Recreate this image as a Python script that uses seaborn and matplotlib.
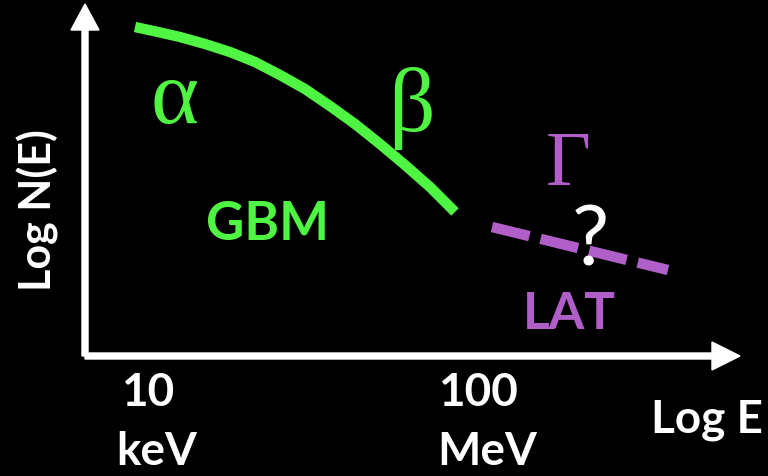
import numpy as np
import pandas as pd
import matplotlib
matplotlib.use("Agg")
import matplotlib.pyplot as plt
import seaborn as sns

# schematic spectrum (pixel-like units, y grows downward)
gbm_x = [135, 158, 180, 205, 230, 255, 280, 305, 330, 355, 380, 405, 430, 455]
gbm_y = [28, 33, 38, 45, 53, 63, 76, 90, 107, 125, 145, 166, 188, 213]
lat_x = [492, 668]
lat_y = [228, 271]

tick_pos = [148, 478]
tick_top = ["10", "100"]
tick_bot = ["keV", "MeV"]

green = "#4ff542"
purple = "#b05fc8"

sns.set_theme(style="dark", rc={"axes.facecolor": "black", "figure.facecolor": "black"})
plt.rcParams['font.family'] = ['Lato', 'DejaVu Sans']

fig = plt.figure(figsize=(7.68, 4.77), dpi=100)
ax = fig.add_axes([0, 0, 1, 1])
ax.set_xlim(0, 768)
ax.set_ylim(477, 0)
ax.axis("off")

gbm = pd.DataFrame({"x": gbm_x, "y": gbm_y})
lat = pd.DataFrame({"x": lat_x, "y": lat_y})
sns.lineplot(data=gbm, x="x", y="y", ax=ax, color=green, lw=7.5, sort=False,
             solid_capstyle="butt", solid_joinstyle="round")
sns.lineplot(data=lat, x="x", y="y", ax=ax, color=purple, lw=7.5,
             dashes=False, linestyle=(0, (3.7, 1.1)), dash_capstyle="butt")

# axes arrows
ax.arrow(85, 357, 0, -352, width=6, head_width=28, head_length=26,
         length_includes_head=True, color="white")
ax.arrow(85, 357, 655, 0, width=6, head_width=28, head_length=28,
         length_includes_head=True, color="white")

serif = "Liberation Serif"
ax.text(175, 101, "α", color=green, fontsize=66, family=serif, ha="center", va="center")
ax.text(411, 108, "β", color=green, fontsize=66, family=serif, ha="center", va="center")
ax.text(268, 225, "GBM", color=green, fontsize=38, fontweight="bold", ha="center", va="center")
ax.text(568, 166, "Γ", color=purple, fontsize=56, family=serif, ha="center", va="center")
ax.text(590, 243, "?", color="white", fontsize=60, ha="center", va="center")
ax.text(569, 315, "LAT", color=purple, fontsize=37, fontweight="bold", ha="center", va="center")

for p, t, b in zip(tick_pos, tick_top, tick_bot):
    ax.text(p, 393, t, color="white", fontsize=33, fontweight="bold", ha="center", va="center")
    ax.text(p + 9, 452, b, color="white", fontsize=33, fontweight="bold", ha="center", va="center")
ax.text(707, 420, "Log E", color="white", fontsize=33, fontweight="bold", ha="center", va="center")
ax.text(38, 210, "Log N(E)", color="white", fontsize=31, fontweight="bold",
        rotation=90, ha="center", va="center")

fig.savefig("out.png", dpi=100, facecolor="black")
